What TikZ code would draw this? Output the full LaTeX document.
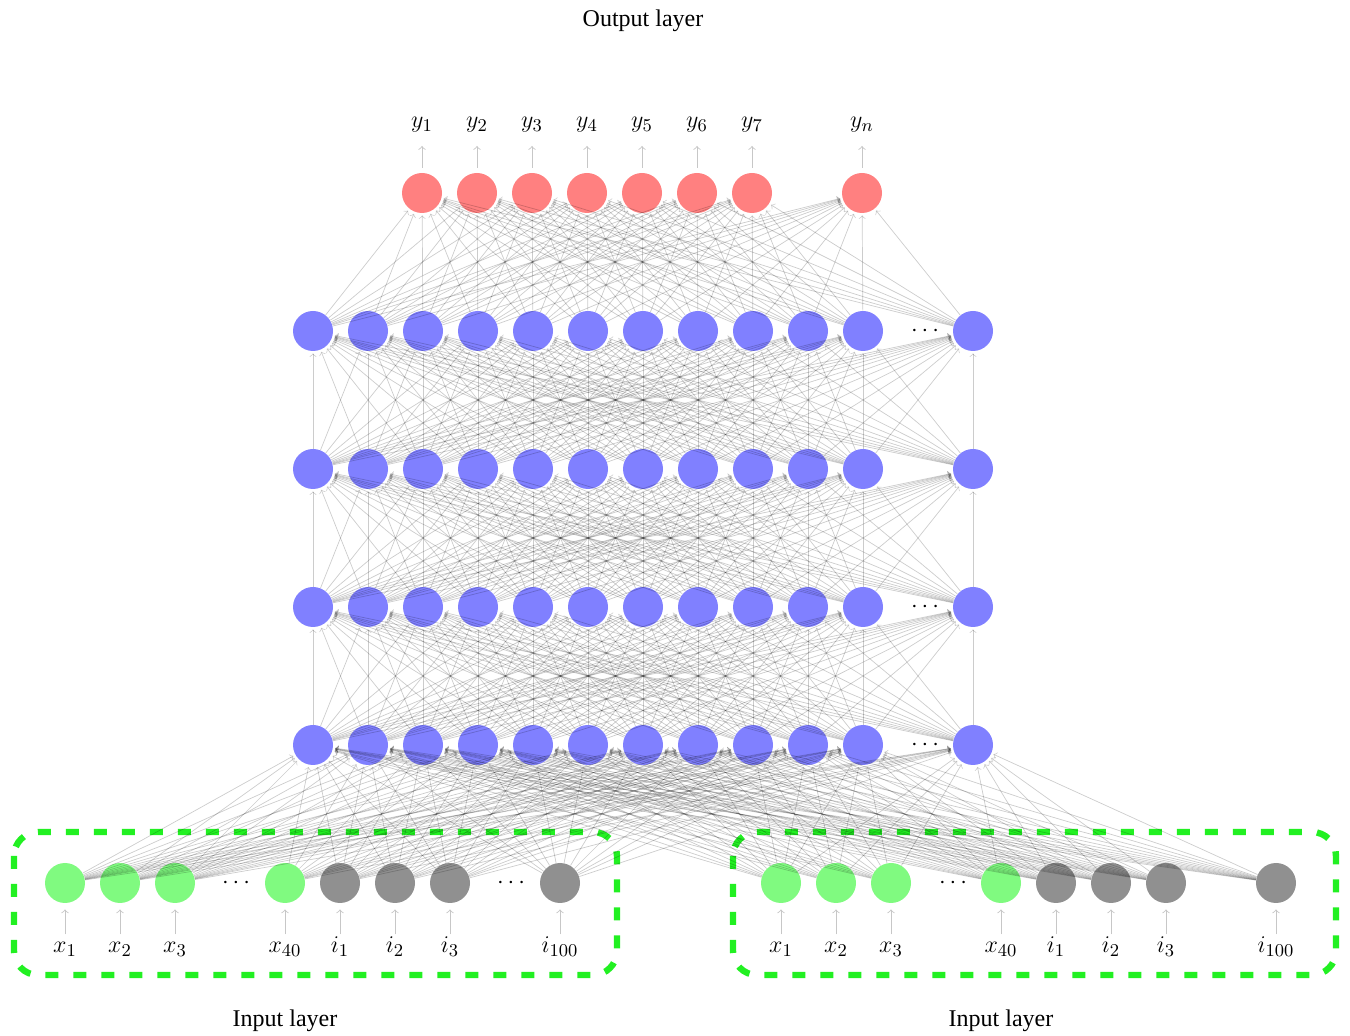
\documentclass[tikz,border=0pt]{standalone}
\usepackage[no-math]{fontspec}
\setmainfont{Liberation Serif}
\definecolor{boxgreen}{RGB}{34,240,34}
\definecolor{hidblue}{RGB}{128,128,255}
\definecolor{outred}{RGB}{255,128,128}
\definecolor{ingreen}{RGB}{128,250,128}
\definecolor{ingray}{RGB}{144,144,144}
\begin{document}
\begin{tikzpicture}[x=0.5pt,y=-0.5pt,
  neuron/.style={circle, minimum size=20pt, inner sep=0pt, draw=none},
  inx/.style={neuron, fill=ingreen},
  ini/.style={neuron, fill=ingray},
  hid/.style={neuron, fill=hidblue},
  outn/.style={neuron, fill=outred},
  edge/.style={->, draw=black, opacity=0.2, line width=0.35pt, shorten >=1pt},
  inarrow/.style={->, draw=black!22, line width=0.45pt, shorten <=2.2pt, shorten >=3pt},
  outarrow/.style={->, draw=black!22, line width=0.45pt, shorten <=2.5pt, shorten >=6.5pt},
  lab/.style={font=\fontsize{12.5}{14}\selectfont, inner sep=0pt, text height=1.5ex, text depth=0.5ex},
  title/.style={font=\fontsize{12}{14}\selectfont, inner sep=0pt},
  dotsnode/.style={font=\fontsize{12}{14}\selectfont, inner sep=0pt},
  inbox/.style={draw=boxgreen, line width=3.2pt, dash pattern=on 6.5pt off 7.5pt, rounded corners=12pt}
]
\useasboundingbox (0,0) rectangle (1350,1036);

% hidden layers (bottom to top)
\foreach \r/\yy in {1/745, 2/607, 3/469, 4/331} {
  \foreach \i in {1,...,11} {
    \node[hid] (h\r-\i) at ({313+55*(\i-1)}, \yy) {};
  }
  \node[hid] (h\r-12) at (973, \yy) {};
}
\node[dotsnode] (hd1) at (925,745) {$\cdots$};
\node[dotsnode] (hd2) at (925,607) {$\cdots$};
\node[dotsnode] (hd4) at (925,331) {$\cdots$};

% output layer
\foreach \i in {1,...,7} {
  \node[outn] (o-\i) at ({422+55*(\i-1)}, 193) {};
}
\node[outn] (o-8) at (862, 193) {};

% left input block
\foreach \i/\xx in {1/65, 2/120, 3/175, 4/285} {
  \node[inx] (inL-\i) at (\xx, 883) {};
}
\foreach \i/\xx in {5/340, 6/395, 7/450, 8/560} {
  \node[ini] (inL-\i) at (\xx, 883) {};
}
\node[dotsnode] (dL1) at (236,883) {$\cdots$};
\node[dotsnode] (dL2) at (511,883) {$\cdots$};

% right input block
\foreach \i/\xx in {1/781, 2/836, 3/891, 4/1001} {
  \node[inx] (inR-\i) at (\xx, 883) {};
}
\foreach \i/\xx in {5/1056, 6/1111, 7/1166, 8/1276} {
  \node[ini] (inR-\i) at (\xx, 883) {};
}
\node[dotsnode] (dR1) at (953,883) {$\cdots$};

% input labels
\foreach \blk/\off in {L/0, R/716} {
  \node[lab, anchor=base] (\blk lab-1) at ({65+\off}, 953) {$x_1$};
  \node[lab, anchor=base] (\blk lab-2) at ({120+\off}, 953) {$x_2$};
  \node[lab, anchor=base] (\blk lab-3) at ({175+\off}, 953) {$x_3$};
  \node[lab, anchor=base] (\blk lab-4) at ({285+\off}, 953) {$x_{40}$};
  \node[lab, anchor=base] (\blk lab-5) at ({340+\off}, 953) {$i_1$};
  \node[lab, anchor=base] (\blk lab-6) at ({395+\off}, 953) {$i_2$};
  \node[lab, anchor=base] (\blk lab-7) at ({450+\off}, 953) {$i_3$};
  \node[lab, anchor=base] (\blk lab-8) at ({560+\off}, 953) {$i_{100}$};
  \foreach \i in {1,...,8} {
    \draw[inarrow] (\blk lab-\i.north) -- (in\blk-\i.south);
  }
}

% output labels
\foreach \i in {1,...,7} {
  \node[lab, anchor=base] (ol-\i) at ({422+55*(\i-1)}, 128) {$y_{\i}$};
}
\node[lab, anchor=base] (ol-8) at (862, 128) {$y_n$};
\foreach \i in {1,...,8} {
  \draw[outarrow] (o-\i.north) -- (ol-\i.south);
}

% dashed frames around the input blocks
\draw[inbox] (14,832) rectangle (617,975);
\draw[inbox] (733,832) rectangle (1336,975);

% titles
\node[title, anchor=base] (outtitle) at (643,27) {Output layer};
\node[title, anchor=base] (intitleL) at (285,1026) {Input layer};
\node[title, anchor=base] (intitleR) at (1001,1026) {Input layer};

% connections
\foreach \s in {1,...,8} {
  \foreach \d in {1,...,12} {
    \draw[edge] (inL-\s) -- (h1-\d);
    \draw[edge] (inR-\s) -- (h1-\d);
  }
}
\foreach \a/\b in {1/2, 2/3, 3/4} {
  \foreach \s in {1,...,12} {
    \foreach \d in {1,...,12} {
      \draw[edge] (h\a-\s) -- (h\b-\d);
    }
  }
}
\foreach \s in {1,...,12} {
  \foreach \d in {1,...,8} {
    \draw[edge] (h4-\s) -- (o-\d);
  }
}
\end{tikzpicture}
\end{document}
